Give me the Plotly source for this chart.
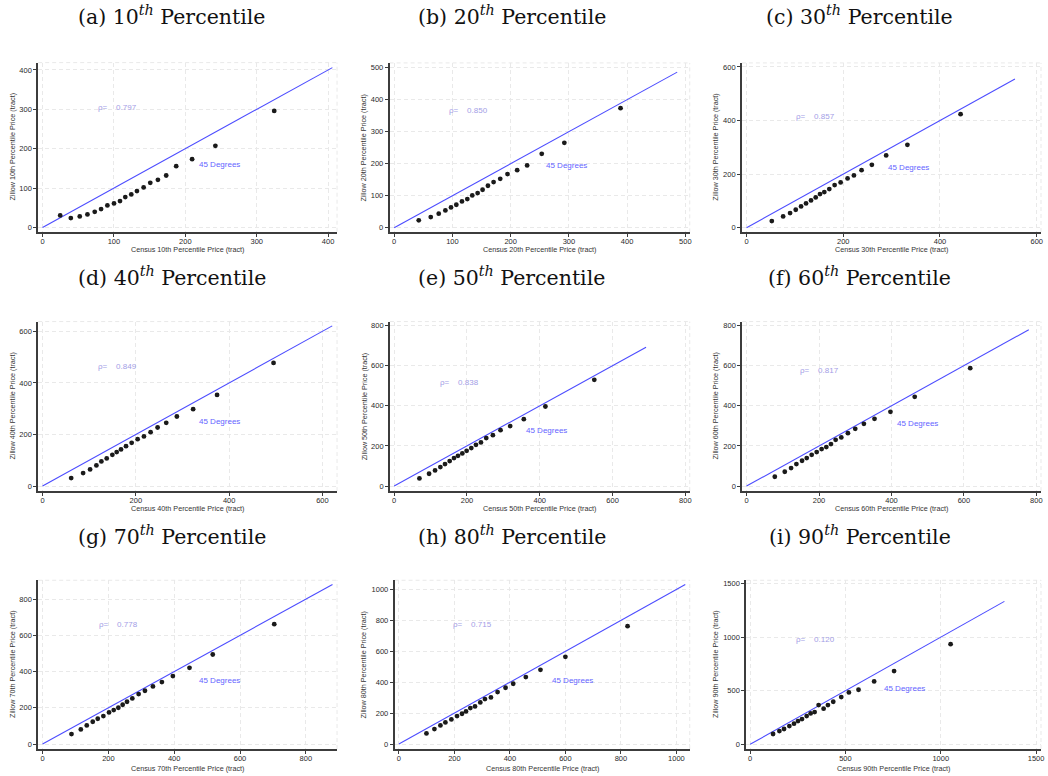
import plotly.graph_objects as go

W, H = 1048, 776

# ---------------- data ----------------
panel_letters = ["a", "b", "c", "d", "e", "f", "g", "h", "i"]
pctl_labels = ["10", "20", "30", "40", "50", "60", "70", "80", "90"]
rho_values = ["0.797", "0.850", "0.857", "0.849", "0.838", "0.817", "0.778", "0.715", "0.120"]
diag_max = [406, 486, 555, 621, 692, 779, 881, 1032, 1334]

census_p10 = [24.7, 39.6, 52.1, 62.9, 73.1, 82.0, 90.8, 100.1, 108.5, 115.9, 124.3, 132.2, 141.6, 150.9, 161.6, 173.2, 187.2, 209.5, 242.1, 324.5]
zillow_p10 = [30.4, 23.7, 27.9, 33.0, 39.7, 46.5, 55.8, 60.9, 66.8, 77.0, 83.7, 92.2, 101.5, 113.3, 120.9, 131.9, 155.6, 173.4, 207.2, 296.0]

census_p20 = [42.2, 62.8, 76.5, 87.9, 97.6, 106.7, 116.4, 125.6, 134.1, 143.3, 151.8, 161.0, 170.7, 182.1, 194.6, 211.2, 228.3, 253.4, 292.2, 388.7]
zillow_p20 = [22.9, 33.3, 43.7, 54.1, 63.4, 71.7, 82.1, 89.4, 100.8, 108.1, 118.5, 131.0, 142.4, 152.8, 167.4, 179.8, 194.4, 230.8, 265.1, 373.2]

census_p30 = [52.2, 75.6, 90.0, 101.7, 112.7, 123.0, 133.3, 143.0, 151.9, 160.8, 171.1, 182.1, 194.5, 208.9, 222.0, 237.8, 259.1, 288.7, 332.6, 442.6]
zillow_p30 = [24.8, 42.2, 54.7, 67.1, 79.5, 90.7, 101.9, 113.0, 125.5, 132.9, 144.1, 159.0, 168.9, 183.9, 195.0, 214.9, 234.8, 269.6, 309.3, 423.6]

census_p40 = [61.3, 86.9, 101.9, 115.4, 126.1, 137.5, 149.6, 158.9, 168.2, 178.9, 191.0, 203.8, 217.3, 231.6, 246.6, 265.1, 287.9, 322.8, 374.1, 495.2]
zillow_p40 = [31.0, 50.3, 64.5, 80.0, 95.5, 107.1, 121.3, 131.6, 141.9, 154.8, 167.7, 181.9, 192.3, 209.0, 227.1, 245.2, 269.7, 298.1, 353.5, 477.4]

census_p50 = [69.4, 95.9, 112.3, 126.9, 139.7, 152.5, 164.4, 175.3, 187.2, 199.1, 211.9, 224.7, 238.4, 253.0, 271.2, 292.2, 318.7, 356.2, 415.5, 549.8]
zillow_p50 = [38.2, 61.4, 78.0, 94.6, 109.5, 124.5, 139.4, 151.0, 162.7, 175.9, 189.2, 205.8, 217.4, 239.0, 253.9, 278.8, 298.8, 333.6, 396.7, 529.5]

census_p60 = [78.0, 105.5, 122.9, 137.6, 153.2, 166.1, 179.8, 193.6, 207.3, 220.2, 233.0, 245.9, 261.5, 279.8, 300.0, 323.9, 353.2, 397.2, 464.2, 617.4]
zillow_p60 = [46.5, 71.4, 89.6, 109.5, 126.1, 139.4, 156.0, 169.3, 184.2, 194.2, 209.1, 230.7, 242.3, 263.9, 285.5, 310.4, 335.3, 370.1, 444.8, 587.6]

census_p70 = [87.9, 116.2, 134.3, 152.5, 167.7, 184.8, 202.0, 216.2, 230.3, 243.4, 256.6, 272.7, 291.9, 311.1, 335.4, 362.6, 396.0, 446.5, 517.2, 704.0]
zillow_p70 = [55.2, 80.9, 103.0, 123.2, 139.8, 154.5, 174.7, 187.6, 200.5, 217.0, 233.6, 252.0, 275.9, 294.3, 318.2, 342.1, 375.2, 421.1, 494.7, 662.1]

census_p80 = [99.4, 128.1, 149.7, 167.7, 189.2, 209.6, 227.5, 241.9, 257.5, 274.3, 293.4, 310.2, 331.7, 355.7, 384.4, 412.0, 457.5, 510.2, 600.0, 824.0]
zillow_p80 = [69.0, 97.0, 120.7, 140.1, 159.5, 181.0, 196.1, 211.2, 232.8, 243.5, 269.4, 290.9, 301.7, 336.2, 364.2, 390.1, 433.2, 480.6, 564.7, 762.9]

census_p90 = [120.3, 153.5, 177.9, 205.8, 230.2, 251.2, 272.1, 296.5, 317.4, 338.4, 359.3, 385.5, 408.1, 436.0, 477.9, 518.0, 568.6, 650.6, 755.2, 1051.7]
zillow_p90 = [96.3, 124.2, 142.9, 170.8, 192.5, 217.4, 236.0, 264.0, 288.8, 301.2, 366.5, 332.3, 366.5, 397.5, 441.0, 484.5, 509.3, 587.0, 683.2, 934.8]

census_series = [census_p10, census_p20, census_p30, census_p40, census_p50,
                 census_p60, census_p70, census_p80, census_p90]
zillow_series = [zillow_p10, zillow_p20, zillow_p30, zillow_p40, zillow_p50,
                 zillow_p60, zillow_p70, zillow_p80, zillow_p90]

tick_steps = [100, 100, 200, 200, 200, 200, 200, 200, 500]

# ---------------- layout geometry (pixels / axis settings) ----------------
# plot boxes: left, right, top, bottom (pixels)
boxes = [
    (38.3, 338.0, 61.7, 231.0), (390.7, 691.7, 62.0, 231.7), (744.0, 1044.0, 62.0, 231.3),
    (38.3, 338.0, 321.0, 490.7), (391.0, 691.7, 321.0, 490.7), (744.3, 1044.0, 321.0, 490.7),
    (38.3, 338.0, 580.0, 749.0), (395.7, 691.7, 580.0, 749.0), (748.3, 1044.0, 580.0, 749.0),
]
x_ranges = [(-6.1, 412.5), (-7.9, 507.5), (-9.7, 608.9), (-9.4, 631.3), (-11.8, 812.0),
            (-12.1, 812.8), (-13.3, 894.8), (-15.5, 1048.0), (-20.9, 1526.0)]
y_ranges = [(-10.9, 418.7), (-14.7, 514.7), (-16.0, 615.0), (-19.4, 637.6), (-24.9, 819.8),
            (-24.9, 819.8), (-27.6, 904.8), (-32.3, 1060.0), (-43.8, 1531.0)]
rho_pos = [(75, 304), (90, 365), (99, 416), (115, 464), (120, 518), (141, 578), (164, 662), (189, 772), (232, 981)]
deg_pos = [(216, 161), (257, 195), (289, 224), (330, 249), (358, 275), (410, 310), (468, 353), (544, 414), (694, 522)]
title_cx = [172, 513, 862]
title_cy = [14.5, 275.5, 535.5]
xtitle_cy = [249, 508, 768]
ytitle_cx = [12.3, 365, 717.3]

SANS = "Liberation Sans, Arial, sans-serif"
SERIF = "DejaVu Serif, serif"
LINE_BLUE = "#4d4dff"
DEG_BLUE = "#6464ff"
RHO_PURPLE = "#a39ee6"
GRID = "#e9e9e9"
AXIS = "#3c3c3c"

fig = go.Figure()
layout = dict(
    width=W, height=H, margin=dict(l=0, r=0, t=0, b=0),
    paper_bgcolor="white", plot_bgcolor="white", showlegend=False,
    annotations=[], shapes=[],
)

def px_to_fx(px):
    return px / W

def px_to_fy(py):
    return 1 - py / H

for i in range(9):
    n = i + 1
    xa = "x" if n == 1 else f"x{n}"
    ya = "y" if n == 1 else f"y{n}"
    xkey = "xaxis" if n == 1 else f"xaxis{n}"
    ykey = "yaxis" if n == 1 else f"yaxis{n}"
    l, r, t, b = boxes[i]
    row, col = divmod(i, 3)

    fig.add_trace(go.Scatter(x=[0, diag_max[i]], y=[0, diag_max[i]], mode="lines",
                             line=dict(color=LINE_BLUE, width=1.1), xaxis=xa, yaxis=ya,
                             hoverinfo="skip"))
    fig.add_trace(go.Scatter(x=census_series[i], y=zillow_series[i], mode="markers",
                             marker=dict(color="#1a1a1a", size=4.8), xaxis=xa, yaxis=ya))

    common = dict(showline=True, linecolor=AXIS, linewidth=1.6, ticks="outside", ticklen=3,
                  tickcolor=AXIS, tickwidth=1, showgrid=True, gridcolor=GRID,
                  griddash="4px,3px", gridwidth=1, zeroline=False, tick0=0,
                  dtick=tick_steps[i],
                  tickfont=dict(family=SANS, size=7.5, color="#2a2a2a"))
    layout[xkey] = dict(common, domain=[px_to_fx(l), px_to_fx(r)], range=list(x_ranges[i]),
                        anchor=ya, ticklabelstandoff=-2)
    layout[ykey] = dict(common, domain=[px_to_fy(b), px_to_fy(t)], range=list(y_ranges[i]),
                        anchor=xa)

    # top & right dashed borders of the plot region
    layout["shapes"].append(dict(type="line", xref=f"{xa} domain", yref=f"{ya} domain",
                                 x0=0, x1=1, y0=1, y1=1, layer="below",
                                 line=dict(color=GRID, width=1, dash="4px,3px")))
    layout["shapes"].append(dict(type="line", xref=f"{xa} domain", yref=f"{ya} domain",
                                 x0=1, x1=1, y0=0, y1=1, layer="below",
                                 line=dict(color=GRID, width=1, dash="4px,3px")))

    # panel title
    layout["annotations"].append(dict(
        text=f"({panel_letters[i]}) {pctl_labels[i]}<sup><i>th</i></sup> Percentile",
        xref="paper", yref="paper", x=px_to_fx(title_cx[col]), y=px_to_fy(title_cy[row]),
        xanchor="center", yanchor="middle", showarrow=False,
        font=dict(family=SERIF, size=20.5, color="#111111")))
    # axis titles
    layout["annotations"].append(dict(
        text=f"Census {pctl_labels[i]}th Percentile Price (tract)",
        xref="paper", yref="paper", x=px_to_fx((l + r) / 2), y=px_to_fy(xtitle_cy[row]),
        xanchor="center", yanchor="middle", showarrow=False,
        font=dict(family=SANS, size=7.2, color="#333333")))
    layout["annotations"].append(dict(
        text=f"Zillow {pctl_labels[i]}th Percentile Price (tract)",
        xref="paper", yref="paper", x=px_to_fx(ytitle_cx[col]), y=px_to_fy((t + b) / 2),
        xanchor="center", yanchor="middle", textangle=-90, showarrow=False,
        font=dict(family=SANS, size=7.2, color="#333333")))
    # rho and 45-degree labels
    layout["annotations"].append(dict(
        text=f"\u03c1=\u00a0\u00a0\u00a0\u00a0{rho_values[i]}", xref=xa, yref=ya,
        x=rho_pos[i][0], y=rho_pos[i][1], xanchor="left", yanchor="middle", showarrow=False,
        font=dict(family=SANS, size=8, color=RHO_PURPLE)))
    layout["annotations"].append(dict(
        text="45 Degrees", xref=xa, yref=ya, x=deg_pos[i][0], y=deg_pos[i][1],
        xanchor="left", yanchor="middle", showarrow=False,
        font=dict(family=SANS, size=8, color=DEG_BLUE)))

fig.update_layout(**layout)
fig.write_html("out.html")
